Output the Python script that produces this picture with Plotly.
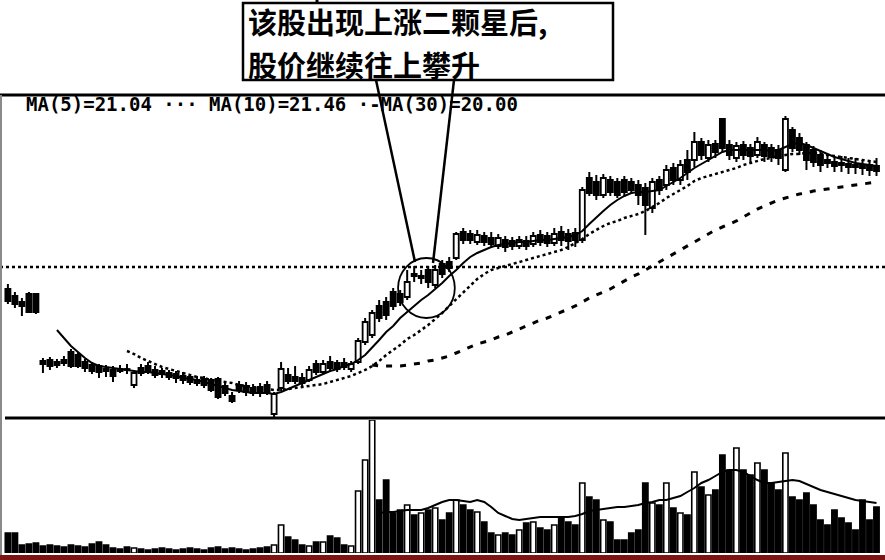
import plotly.graph_objects as go

# ---------------- data ----------------
open_ = [
    14.85, 14.50, 14.20, 14.60, 14.60,
    11.25, 11.30, 11.20, 11.30, 11.70,
    11.55, 11.20, 11.05, 11.00, 10.85,
    10.80, 10.85, 10.85, 10.05, 10.90,
    11.00, 10.80, 10.75, 10.65, 10.60,
    10.50, 10.45, 10.30, 10.35, 10.30,
    10.35, 10.00, 9.50, 10.05, 10.00,
    9.90, 9.95, 10.05, 8.60, 9.90,
    10.55, 10.45, 10.40, 10.30, 11.10,
    10.70, 11.20, 11.15, 11.15, 10.85,
    11.20, 12.20, 12.55, 14.00, 14.20,
    14.70, 14.60, 14.45, 15.60, 15.40,
    15.80, 15.05, 16.10, 16.20, 16.40,
    17.70, 17.60, 17.20, 17.50, 17.40,
    17.00, 17.30, 17.25, 17.00, 17.25,
    17.10, 17.55, 17.50, 17.15, 17.70,
    17.60, 17.65, 17.30, 20.40, 20.20,
    19.55, 20.30, 20.20, 20.30, 20.20,
    20.05, 19.90, 18.90, 20.30, 20.05,
    20.90, 20.30, 21.30, 21.30, 22.20,
    21.40, 22.10, 23.35, 22.05, 21.40,
    22.05, 21.90, 21.55, 22.05, 21.90,
    21.80, 20.80, 22.80, 22.40, 22.05,
    21.80, 21.55, 21.30, 21.20, 21.15,
    21.10, 21.05, 21.05, 21.05, 21.00,
]
close = [
    14.25, 14.10, 14.00, 13.70, 13.70,
    11.10, 11.00, 11.05, 11.15, 11.00,
    11.00, 10.90, 10.75, 10.70, 10.75,
    10.50, 10.75, 10.80, 10.65, 10.65,
    10.75, 10.55, 10.60, 10.45, 10.40,
    10.30, 10.20, 10.15, 10.05, 9.80,
    9.45, 9.65, 9.25, 9.80, 9.70,
    9.65, 9.70, 9.65, 9.60, 10.85,
    10.25, 10.25, 10.15, 10.80, 10.70,
    11.10, 10.90, 10.85, 10.95, 11.10,
    12.25, 13.20, 13.65, 13.40, 13.55,
    14.00, 14.20, 15.20, 15.50, 15.50,
    15.20, 15.80, 15.60, 15.90, 17.60,
    17.30, 17.30, 17.55, 17.20, 17.10,
    17.40, 16.95, 17.00, 17.30, 17.00,
    17.50, 17.20, 17.15, 17.60, 17.30,
    17.25, 17.30, 19.80, 19.65, 19.55,
    20.40, 19.70, 19.55, 19.70, 19.80,
    19.55, 19.05, 20.20, 19.80, 20.80,
    20.30, 21.05, 20.70, 22.20, 21.55,
    22.05, 21.70, 21.90, 21.55, 22.00,
    21.55, 21.50, 22.20, 21.50, 21.45,
    21.40, 23.35, 21.90, 21.80, 21.30,
    21.20, 21.05, 21.15, 21.00, 21.05,
    20.95, 20.95, 20.90, 20.80, 20.75,
]
high = [
    15.10, 14.70, 14.40, 14.70, 14.65,
    11.40, 11.45, 11.35, 11.50, 11.85,
    11.70, 11.35, 11.20, 11.10, 11.05,
    11.00, 11.05, 11.10, 10.80, 11.10,
    11.20, 11.00, 10.90, 10.80, 10.75,
    10.70, 10.60, 10.50, 10.50, 10.40,
    10.45, 10.15, 9.70, 10.25, 10.20,
    10.10, 10.15, 10.25, 9.70, 11.20,
    10.90, 11.00, 10.65, 11.00, 11.30,
    11.30, 11.50, 11.30, 11.40, 11.25,
    12.40, 13.40, 13.80, 14.30, 14.45,
    14.90, 14.80, 15.80, 16.00, 15.80,
    16.00, 16.05, 16.30, 16.45, 17.70,
    17.90, 17.80, 17.80, 17.70, 17.70,
    17.60, 17.50, 17.45, 17.50, 17.50,
    17.70, 17.80, 17.70, 17.90, 18.00,
    17.85, 17.90, 19.95, 20.70, 20.55,
    20.60, 20.50, 20.40, 20.50, 20.40,
    20.30, 20.15, 20.40, 20.50, 21.05,
    21.15, 21.30, 21.80, 22.70, 22.40,
    22.30, 22.30, 23.40, 22.30, 22.20,
    22.25, 22.10, 22.45, 22.20, 22.10,
    22.05, 23.50, 22.95, 22.65, 22.20,
    22.00, 21.80, 21.55, 21.50, 21.50,
    21.40, 21.40, 21.30, 21.30, 21.40,
]
low = [
    14.10, 13.90, 13.50, 13.65, 13.60,
    10.65, 10.80, 10.90, 11.00, 10.90,
    10.90, 10.70, 10.60, 10.40, 10.45,
    10.20, 10.65, 10.60, 9.90, 10.50,
    10.60, 10.40, 10.40, 10.30, 10.15,
    10.10, 10.05, 10.00, 9.90, 9.70,
    9.35, 9.50, 9.15, 9.65, 9.50,
    9.50, 9.45, 9.55, 8.45, 9.75,
    10.10, 10.10, 9.95, 10.20, 10.55,
    10.60, 10.70, 10.70, 10.80, 10.70,
    11.10, 12.05, 12.40, 13.20, 13.30,
    13.80, 14.00, 14.30, 15.20, 15.10,
    14.90, 14.90, 15.40, 15.70, 16.30,
    17.10, 17.10, 17.05, 17.00, 16.90,
    16.85, 16.70, 16.80, 16.85, 16.80,
    16.95, 17.00, 16.95, 17.00, 17.00,
    16.80, 16.95, 17.15, 19.50, 19.30,
    19.40, 19.50, 19.40, 19.50, 19.60,
    19.05, 17.55, 18.65, 19.55, 19.80,
    20.05, 20.05, 20.30, 20.95, 21.30,
    21.20, 21.40, 21.70, 21.30, 21.20,
    21.30, 21.20, 21.40, 21.20, 21.20,
    21.05, 20.70, 21.70, 21.55, 20.80,
    20.95, 20.70, 20.90, 20.70, 20.70,
    20.60, 20.60, 20.55, 20.50, 20.50,
]
ma5 = [None] * 7 + [
    12.80, 12.40, 12.00, 11.70, 11.40, 11.15, 11.00, 10.95, 10.90, 10.85,
    10.80, 10.75, 10.70, 10.70, 10.65, 10.60, 10.55, 10.50, 10.40, 10.35,
    10.30, 10.20, 10.10, 10.00, 9.90, 9.80, 9.75, 9.70, 9.65, 9.65,
    9.65, 9.60, 9.70, 9.85, 10.00, 10.15, 10.30, 10.45, 10.60, 10.75,
    10.85, 11.00, 11.10, 11.30, 11.55, 11.90, 12.30, 12.70, 13.00, 13.40,
    13.70, 14.00, 14.30, 14.55, 14.85, 15.15, 15.50, 15.80, 16.15, 16.45,
    16.65, 16.80, 16.95, 17.05, 17.10, 17.15, 17.20, 17.20, 17.25, 17.30,
    17.30, 17.35, 17.40, 17.45, 17.55, 17.75, 18.10, 18.45, 18.75, 19.05,
    19.30, 19.50, 19.65, 19.70, 19.70, 19.75, 19.80, 20.00, 20.20, 20.40,
    20.65, 20.90, 21.10, 21.30, 21.50, 21.70, 21.80, 21.80, 21.80, 21.80,
    21.80, 21.80, 21.75, 21.80, 21.95, 22.10, 22.15, 22.05, 21.90, 21.75,
    21.60, 21.45, 21.35, 21.25, 21.15, 21.10, 21.05, 21.00,
]
ma10 = [None] * 17 + [
    11.75, 11.60, 11.40, 11.25, 11.10, 10.95, 10.85, 10.75, 10.65, 10.55,
    10.45, 10.40, 10.30, 10.25, 10.20, 10.15, 10.05, 10.00, 9.95, 9.90,
    9.85, 9.80, 9.80, 9.85, 9.90, 9.95, 10.00, 10.05, 10.10, 10.20,
    10.30, 10.40, 10.50, 10.65, 10.80, 11.00, 11.25, 11.55, 11.80, 12.05,
    12.35, 12.55, 12.80, 13.05, 13.35, 13.65, 14.00, 14.35, 14.70, 15.05,
    15.35, 15.60, 15.80, 15.90, 16.00, 16.10, 16.20, 16.30, 16.40, 16.50,
    16.60, 16.70, 16.80, 16.95, 17.15, 17.35, 17.60, 17.80, 18.00, 18.15,
    18.25, 18.40, 18.50, 18.60, 18.75, 18.95, 19.15, 19.40, 19.60, 19.80,
    20.00, 20.25, 20.40, 20.50, 20.60, 20.70, 20.80, 20.90, 21.05, 21.15,
    21.25, 21.35, 21.40, 21.50, 21.55, 21.60, 21.60, 21.65, 21.65, 21.60,
    21.55, 21.50, 21.45, 21.40, 21.35, 21.30, 21.25, 21.20,
]
ma30 = [None] * 52 + [
    11.05, 11.00, 11.00, 11.00, 11.00, 11.05, 11.10, 11.15,
    11.25, 11.30, 11.40, 11.50, 11.65, 11.80, 11.95, 12.10, 12.20, 12.30,
    12.45, 12.55, 12.70, 12.85, 13.00, 13.15, 13.30, 13.40, 13.55, 13.70,
    13.85, 14.00, 14.20, 14.40, 14.55, 14.70, 14.85, 15.05, 15.25, 15.45,
    15.60, 15.80, 16.00, 16.20, 16.40, 16.60, 16.80, 17.00, 17.20, 17.40,
    17.60, 17.80, 17.95, 18.10, 18.25, 18.45, 18.65, 18.85, 19.00, 19.15,
    19.30, 19.40, 19.50, 19.60, 19.65, 19.75, 19.80, 19.85, 19.90, 19.95,
    20.00, 20.05, 20.10, 20.15, 20.20,
]
volume = [
    20, 20, 8, 9, 10, 7, 8, 7, 6, 8, 7, 6, 9, 11, 8,
    5, 4, 6, 5, 4, 3, 4, 5, 4, 3, 4, 5, 4, 3, 5, 6, 4, 5, 4, 3, 4, 5, 6,
    8, 28, 16, 13, 8, 7, 11, 11, 17, 15, 8, 7,
    62, 93, 133, 53, 73, 40, 43, 48, 38, 40,
    43, 45, 33, 40, 53, 48, 43, 41, 31, 20,
    18, 20, 18, 23, 30, 31, 25, 23, 28, 35,
    31, 28, 70, 56, 53, 33, 31, 13, 13, 20,
    23, 70, 50, 48, 70, 45, 40, 38, 81, 66,
    58, 63, 98, 83, 105, 83, 78, 90, 83, 70,
    63, 100, 56, 53, 60, 48, 33, 28, 43, 35,
    30, 23, 53, 33, 46,
]
vol_ma = [None] * 53 + [
    40, 41, 41, 42, 43, 43, 43,
    45, 48, 51, 53, 53, 52, 51, 53, 51, 46,
    40, 37, 34, 33, 34, 35, 36, 36, 36, 36,
    36, 37, 39, 42, 43, 44, 45, 46, 46, 47,
    48, 50, 51, 53, 53, 55, 57, 61, 65, 70,
    73, 77, 81, 83, 83, 81, 77, 73, 70, 70,
    71, 72, 73, 72, 69, 66, 63, 61, 59, 57,
    55, 53, 52, 51, 50,
]
ma_legend = "MA(5)=21.04 ··· MA(10)=21.46 ·-MA(30)=20.00"
callout_lines = ["该股出现上涨二颗星后,", "股价继续往上攀升"]

idx = list(range(len(close)))

# ---------------- layout helpers (pixel -> paper) ----------------
W, H = 885, 560
ML, MR = 3, 5
PW = W - ML - MR


def px(x):
    return (x - ML) / PW


def py(y):
    return 1 - y / H


fig = go.Figure()

# candle wicks (outside the body only, so hollow bodies stay white)
wx, wy = [], []
for i, o, c, h, l in zip(idx, open_, close, high, low):
    top, bot = max(o, c), min(o, c)
    wx += [i, i, None, i, i, None]
    wy += [h, top, None, bot, l, None]
fig.add_trace(go.Scatter(x=wx, y=wy, mode="lines", line=dict(color="black", width=2),
                         xaxis="x", yaxis="y", hoverinfo="skip"))

# candle bodies
body_base = [min(o, c) for o, c in zip(open_, close)]
body_len = [abs(c - o) for o, c in zip(open_, close)]
up = [c > o for o, c in zip(open_, close)]
body_colors = ["white" if u else "black" for u in up]
fig.add_trace(go.Bar(x=idx, y=body_len, base=body_base, width=0.72,
                     marker=dict(color=body_colors, line=dict(color="black", width=1.8)),
                     xaxis="x", yaxis="y", hoverinfo="skip"))

fig.add_trace(go.Scatter(x=idx, y=ma5, mode="lines", line=dict(color="black", width=2),
                         xaxis="x", yaxis="y", hoverinfo="skip"))
fig.add_trace(go.Scatter(x=idx, y=ma10, mode="lines",
                         line=dict(color="black", width=2.5, dash="3px,3px"),
                         xaxis="x", yaxis="y", hoverinfo="skip"))
fig.add_trace(go.Scatter(x=idx, y=ma30, mode="lines",
                         line=dict(color="black", width=3, dash="6px,8px"),
                         xaxis="x", yaxis="y", hoverinfo="skip"))

fig.add_trace(go.Bar(x=idx, y=volume, width=0.75,
                     marker=dict(color=body_colors, line=dict(color="black", width=1.6)),
                     xaxis="x2", yaxis="y2", hoverinfo="skip"))
fig.add_trace(go.Scatter(x=idx, y=vol_ma, mode="lines", line=dict(color="black", width=2),
                         xaxis="x2", yaxis="y2", hoverinfo="skip"))

shapes = [
    dict(type="line", xref="paper", yref="paper", x0=px(0), x1=px(885), y0=py(95), y1=py(95),
         line=dict(color="black", width=3)),
    dict(type="line", xref="paper", yref="paper", x0=px(0), x1=px(885), y0=py(267), y1=py(267),
         line=dict(color="black", width=2.5, dash="dot")),
    dict(type="line", xref="paper", yref="paper", x0=px(5), x1=px(885), y0=py(418), y1=py(418),
         line=dict(color="black", width=3)),
    dict(type="line", xref="paper", yref="paper", x0=px(1), x1=px(1), y0=py(95), y1=py(556),
         line=dict(color="#8a8a8a", width=2)),
    dict(type="line", xref="paper", yref="paper", x0=px(0), x1=px(885), y0=py(557.5), y1=py(557.5),
         line=dict(color="#7d1414", width=5)),
    dict(type="rect", xref="paper", yref="paper", x0=px(243), x1=px(613), y0=py(3), y1=py(80),
         line=dict(color="black", width=2.5), fillcolor="white", layer="above"),
    dict(type="line", xref="paper", yref="paper", x0=px(317), x1=px(317), y0=py(0), y1=py(3),
         line=dict(color="black", width=3)),
    dict(type="line", xref="paper", yref="paper", x0=px(376), x1=px(415), y0=py(80), y1=py(262),
         line=dict(color="black", width=2.5)),
    dict(type="line", xref="paper", yref="paper", x0=px(454), x1=px(433), y0=py(80), y1=py(263),
         line=dict(color="black", width=2.5)),
    dict(type="circle", xref="x", yref="y", x0=55.7, x1=63.8, y0=13.4, y1=16.4,
         line=dict(color="black", width=1.8)),
]

cjk = dict(family="Noto Sans CJK SC", size=29, color="black")
annotations = [
    dict(xref="paper", yref="paper", x=px(24), y=py(104), xanchor="left", yanchor="middle",
         text="<b>" + ma_legend + "</b>", showarrow=False,
         font=dict(family="DejaVu Sans Mono", size=19, color="black")),
    dict(xref="paper", yref="paper", x=px(247), y=py(21.5), xanchor="left", yanchor="middle",
         text="<b>" + callout_lines[0] + "</b>", showarrow=False, font=cjk, borderpad=0),
    dict(xref="paper", yref="paper", x=px(247), y=py(63.5), xanchor="left", yanchor="middle",
         text="<b>" + callout_lines[1] + "</b>", showarrow=False, font=cjk, borderpad=0),
]

xr = [-0.7, 124.5]
fig.update_layout(
    width=W, height=H,
    margin=dict(l=ML, r=MR, t=0, b=0),
    paper_bgcolor="white", plot_bgcolor="white",
    showlegend=False,
    xaxis=dict(domain=[0, 1], range=xr, visible=False, anchor="y"),
    xaxis2=dict(domain=[0, 1], range=xr, visible=False, anchor="y2", matches="x"),
    yaxis=dict(domain=[py(418), py(95)], range=[29.3 - 418 / 20, 29.3 - 95 / 20],
               visible=False, anchor="x"),
    yaxis2=dict(domain=[py(553), py(420)], range=[0, 133], visible=False, anchor="x2"),
    shapes=shapes,
    annotations=annotations,
    barmode="overlay",
)

fig.write_html("out.html", config={"displayModeBar": False},
               post_script="document.body.style.margin='0';")
